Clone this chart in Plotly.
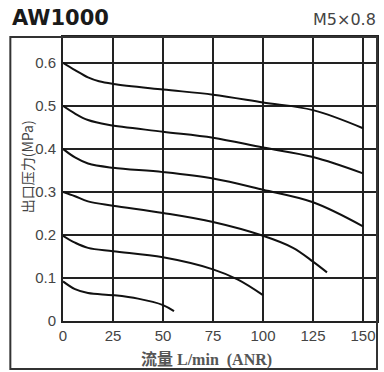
import plotly.graph_objects as go

# Data
flow_06 = [0, 6, 12.5, 18, 25, 50, 75, 100, 125, 150]
pres_06 = [0.600, 0.583, 0.566, 0.557, 0.551, 0.538, 0.526, 0.508, 0.490, 0.448]

flow_05 = [0, 6, 12.5, 22.5, 50, 75, 100, 125, 150]
pres_05 = [0.500, 0.482, 0.467, 0.456, 0.440, 0.426, 0.403, 0.381, 0.343]

flow_04 = [0, 6, 12.5, 25, 50, 75, 100, 125, 150]
pres_04 = [0.400, 0.380, 0.366, 0.356, 0.346, 0.331, 0.305, 0.276, 0.220]

flow_03 = [0, 6, 12.5, 25, 50, 75, 100, 115, 125, 132]
pres_03 = [0.300, 0.290, 0.278, 0.268, 0.251, 0.230, 0.198, 0.170, 0.138, 0.113]

flow_02 = [0, 6, 12.5, 25, 50, 75, 87.5, 100]
pres_02 = [0.198, 0.182, 0.170, 0.162, 0.148, 0.120, 0.096, 0.060]

flow_01 = [0, 6, 12.5, 25, 37.5, 50, 55.5]
pres_01 = [0.092, 0.074, 0.065, 0.060, 0.052, 0.037, 0.023]

x_ticks = [0, 25, 50, 75, 100, 125, 150]
x_ticktext = ["0", "25", "50", "75", "100", "125", "150"]
y_ticks = [0, 0.1, 0.2, 0.3, 0.4, 0.5, 0.6]
y_ticktext = ["0", "0.1", "0.2", "0.3", "0.4", "0.5", "0.6"]

series = [(flow_06, pres_06), (flow_05, pres_05), (flow_04, pres_04),
          (flow_03, pres_03), (flow_02, pres_02), (flow_01, pres_01)]

fig = go.Figure()
for fx, fy in series:
    fig.add_trace(go.Scatter(x=fx, y=fy, mode="lines",
                             line=dict(color="#111", width=2, shape="spline", smoothing=1.0),
                             showlegend=False, hoverinfo="skip"))

grid_c = "#222"
tick_font = dict(family="Liberation Sans, Arial, sans-serif", size=15, color="#444")

fig.update_xaxes(range=[0, 157], tickvals=x_ticks, ticktext=x_ticktext,
                 showgrid=True, gridcolor=grid_c, gridwidth=2, zeroline=False,
                 showline=True, mirror=True, linecolor=grid_c, linewidth=2,
                 ticks="", tickfont=tick_font, fixedrange=True)
fig.update_yaxes(range=[0, 0.66], tickvals=y_ticks, ticktext=y_ticktext,
                 showgrid=True, gridcolor=grid_c, gridwidth=2, zeroline=False,
                 showline=True, mirror=True, linecolor=grid_c, linewidth=2,
                 ticks="", tickfont=tick_font, ticklabelstandoff=2, fixedrange=True)

fig.update_layout(
    width=384, height=372,
    margin=dict(l=63, r=5, t=37, b=51),
    paper_bgcolor="white", plot_bgcolor="white",
    shapes=[dict(type="rect", xref="paper", yref="paper",
                 x0=-0.1677, x1=1.0, y0=-0.169, y1=1.0,
                 line=dict(color="#333", width=2), layer="above")],
    annotations=[
        dict(text="AW1000", xref="paper", yref="paper", x=-0.1677, y=1.067,
             xanchor="left", yanchor="middle", showarrow=False,
             font=dict(family="DejaVu Sans", size=21, color="#1a1a1a", weight="bold")),
        dict(text="M5×0.8", xref="paper", yref="paper", x=1.003, y=1.062,
             xanchor="right", yanchor="middle", showarrow=False,
             font=dict(family="DejaVu Sans", size=16, color="#444")),
        dict(text="出口压力(MPa)", xref="paper", yref="paper", x=-0.114, y=0.542,
             xanchor="center", yanchor="middle", showarrow=False, textangle=-90,
             font=dict(family="Noto Sans CJK SC", size=14, color="#444")),
        dict(text="<b>流量 L/min  (ANR)</b>", xref="paper", yref="paper", x=0.456, y=-0.134,
             xanchor="center", yanchor="middle", showarrow=False,
             font=dict(family="Liberation Serif, Noto Sans CJK SC", size=16, color="#555")),
    ],
)

fig.write_html("out.html", config={"displayModeBar": False},
               post_script="document.body.style.margin='0';document.body.style.overflow='hidden';")
